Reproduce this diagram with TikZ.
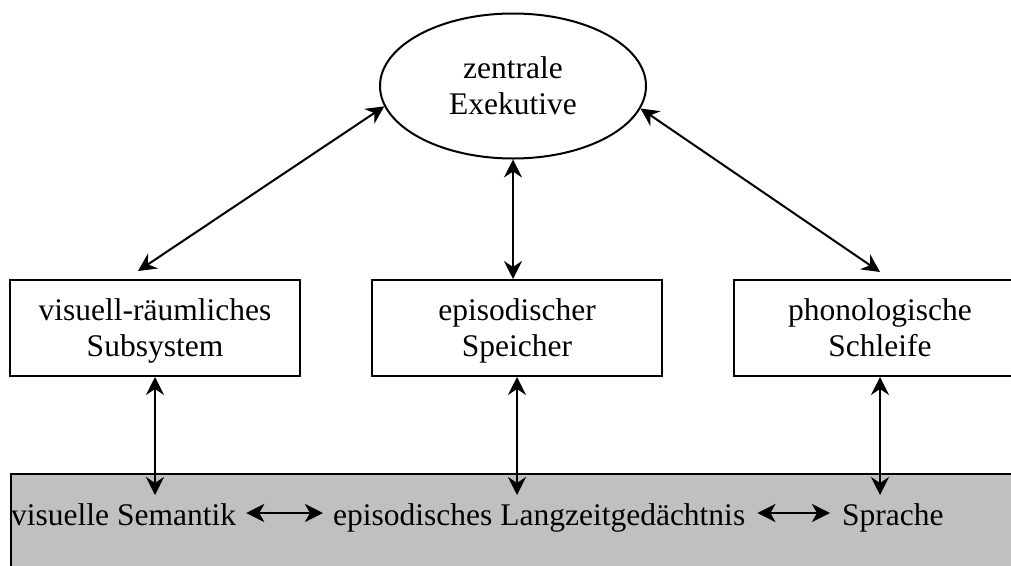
\documentclass[tikz,border=0pt]{standalone}
\usepackage{fontspec}
\setmainfont{Liberation Serif}
\usetikzlibrary{shapes.geometric,arrows.meta}
\definecolor{ltmgray}{HTML}{C0C0C0}
% fixed line height so every two-line label sits at the same baselines
\newcommand\lnstrut{\rule[-8pt]{0pt}{36pt}}
\begin{document}
\begin{tikzpicture}[x=1pt,y=-1pt,
  every node/.style={font=\fontsize{31.5}{36}\selectfont},
  box/.style={draw,line width=2pt,minimum width=290pt,minimum height=96pt,
              align=center,inner sep=0pt},
  tip/.tip={Stealth[length=18pt,width=18pt,inset=6pt]},
  bigtip/.tip={Stealth[length=18pt,width=18pt,inset=5pt]},
  link/.style={line width=2pt,tip-tip},
  biglink/.style={line width=2.8pt,bigtip-bigtip},
  lbl/.style={anchor=base west,inner sep=0pt}]
\useasboundingbox (0,0) rectangle (1011,565);
\clip (0,0) rectangle (1011,565);

% long-term memory band
\node[draw,fill=ltmgray,line width=2pt,anchor=north west,
      minimum width=1040pt,minimum height=120pt,inner sep=0pt] (ltm) at (10,473) {};

% central executive
\node[ellipse,draw,line width=2pt,minimum width=266pt,minimum height=145pt,
      align=center,inner sep=0pt] (ce) at (513,86) {\lnstrut zentrale\\\lnstrut Exekutive};

% slave systems
\node[box] (vr) at (155,328) {\lnstrut visuell-räumliches\\\lnstrut Subsystem};
\node[box] (es) at (517,328) {\lnstrut episodischer\\\lnstrut Speicher};
\node[box,minimum width=292pt] (ph) at (880,328) {\lnstrut phonologische\\\lnstrut Schleife};

% long-term memory contents
\node[lbl] (vs) at (11,525) {visuelle Semantik};
\node[lbl] (ep) at (333,525) {episodisches Langzeitgedächtnis};
\node[lbl] (sp) at (842,525) {Sprache};

% executive links
\draw[link] ([shift={(-17,-8)}]vr.north) -- (ce.189);
\draw[link] (ce.south) -- (ce.south |- es.north);
\draw[link] (ce.350.6) -- ([yshift=7pt]ph.north);

% links down into long-term memory
\draw[link] (vr.south) -- ([yshift=-22pt]vr.south |- ltm.north);
\draw[link] (es.south) -- ([yshift=-22pt]es.south |- ltm.north);
\draw[link] (ph.south) -- ([yshift=-22pt]ph.south |- ltm.north);

% links within long-term memory
\draw[biglink] ([shift={(10,-12)}]vs.base east) -- ([shift={(-10,-12)}]ep.base west);
\draw[biglink] ([shift={(12,-12)}]ep.base east) -- ([shift={(-12,-12)}]sp.base west);
\end{tikzpicture}
\end{document}
